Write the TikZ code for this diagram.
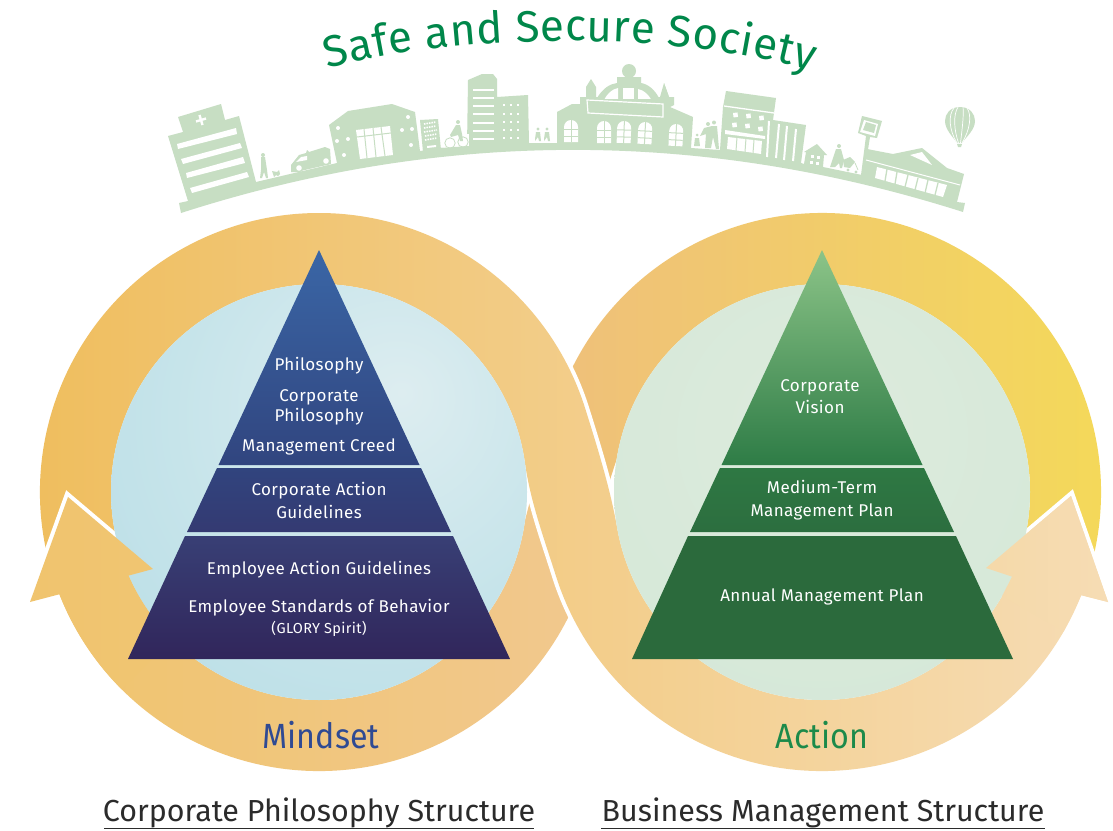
\documentclass[tikz,border=0pt]{standalone}
\usepackage{fontspec}
\setmainfont{Fira Sans}
\newfontfamily\lblf[LetterSpace=2.4]{Fira Sans}
\usetikzlibrary{decorations.text}
\definecolor{sky}{HTML}{C7DEC3}
\definecolor{titlegreen}{HTML}{00874A}
\definecolor{mindblue}{HTML}{2F4A93}
\definecolor{actgreen}{HTML}{1C8A4A}
\definecolor{captxt}{HTML}{2B2B2B}
\definecolor{LB1}{HTML}{DDEDF0}
\definecolor{LB2}{HTML}{C6E4EA}
\definecolor{LB3}{HTML}{B4DBE5}
\definecolor{RB1}{HTML}{DDEBDD}
\definecolor{RB2}{HTML}{D5E8D8}
\definecolor{RB3}{HTML}{D1E6D6}
\definecolor{F0}{HTML}{F0C46E}
\definecolor{F0b}{HTML}{F0C572}
\definecolor{F1}{HTML}{F1C88E}
\definecolor{F2}{HTML}{EFC07A}
\definecolor{F3}{HTML}{F4DA58}
\definecolor{F4}{HTML}{EFBD5C}
\definecolor{F5}{HTML}{F3CE82}
\definecolor{F6}{HTML}{F6DCB4}
\definecolor{F5b}{HTML}{F5D9A9}
\definecolor{LA}{HTML}{3A66A6}
\definecolor{LB}{HTML}{31457F}
\definecolor{LC}{HTML}{31447E}
\definecolor{LD}{HTML}{343A72}
\definecolor{LE}{HTML}{383F75}
\definecolor{LF}{HTML}{31265B}
\definecolor{RA}{HTML}{8CC488}
\definecolor{RM}{HTML}{3F9156}
\definecolor{RC}{HTML}{2E7C46}
\definecolor{RD}{HTML}{2E7843}
\definecolor{RE}{HTML}{2C6E3F}
\definecolor{RF}{HTML}{2B6A3C}
\pgfdeclareradialshading{leftball}{\pgfpoint{10bp}{12bp}}{color(0bp)=(LB1);color(25bp)=(LB2);color(50bp)=(LB3);color(100bp)=(LB3)}
\pgfdeclareradialshading{rightball}{\pgfpoint{0bp}{8bp}}{color(0bp)=(RB1);color(35bp)=(RB2);color(62bp)=(RB3);color(100bp)=(RB3)}
\tikzset{
  lbl/.style={text=white,anchor=base,font=\lblf\fontsize{17}{19}\selectfont,inner sep=0pt},
  biglbl/.style={anchor=base,font=\fontsize{35}{38}\selectfont,inner sep=0pt,xscale=.92,transform shape},
  caplbl/.style={anchor=base,text=captxt,font=\fontsize{30.4}{32}\selectfont,inner sep=0pt},
  sk/.style={fill=sky,draw=none},
  wh/.style={fill=white,draw=none},
  wl/.style={draw=white,line width=1.2pt},
  gl/.style={draw=sky,line width=1pt}
}
\newcommand{\archwin}[3]{\begin{scope}[shift={(#1,#2)},rotate=#3]
  \fill[white] (-7,11)--(-7,-4) arc[start angle=180,end angle=0,radius=7pt]--(7,11)--cycle;
  \draw[gl] (0,-11)--(0,11) (-7,-2)--(7,-2) (-7,5)--(7,5);
\end{scope}}
\begin{document}
\begin{tikzpicture}[x=1pt,y=-1pt]
\useasboundingbox (0,0) rectangle (1113,830);
\fill[white] (0,0) rectangle (1113,830);
\coordinate (L) at (319,492);
\coordinate (R) at (822,492);
\def\bandone{([shift={(200:279pt)}]L) arc[start angle=200,end angle=17,radius=279pt]
  .. controls (597.6,448) and (610,488) .. ([shift={(189.7:208pt)}]R)
  arc[start angle=189.7,end angle=336,radius=208pt]
  -- (986,568) -- (1071,496) -- (1108,602) -- ([shift={(338.3:279pt)}]R)
  arc[start angle=338.3,end angle=198,radius=279pt]
  .. controls (544.6,540) and (530.6,502.6) .. ([shift={(8:208pt)}]L)
  arc[start angle=8,end angle=200,radius=208pt] -- cycle}
% back band
\shade[left color=F0,right color=F1]
  ([shift={(201.5:279pt)}]L) arc[start angle=201.5,end angle=334.3,radius=279pt]
  -- (585,600) -- (545,495) -- (531,497) -- ([shift={(-7.7:208pt)}]L)
  arc[start angle=-7.7,end angle=-156.3,radius=208pt] -- cycle;
\shade[left color=F2,right color=F3]
  ([shift={(154.3:279pt)}]R) arc[start angle=154.3,end angle=-20,radius=279pt]
  -- ([shift={(-20:208pt)}]R) arc[start angle=-20,end angle=171,radius=208pt]
  -- (608,486) -- (590,480) -- (560,372) -- cycle;
% front band
\path[draw=white,line width=8pt,line join=miter] \bandone;
\shade[left color=F4,middle color=F5,right color=F6] \bandone;
% left arrow white edge, then discs, then both arrow heads on top
\path[draw=white,line width=8pt] (30,602) -- (68,497) -- (153,569);
\path[shading=rightball] (R) circle[radius=208pt];
\path[shading=leftball] (L) circle[radius=208pt];
\shade[left color=F0,right color=F0b]
  ([shift={(201.5:279pt)}]L) arc[start angle=201.5,end angle=225,radius=279pt]
  -- ([shift={(225:208pt)}]L) arc[start angle=225,end angle=203.7,radius=208pt]
  -- (153,569) -- (68,497) -- (30,602) -- cycle;
\shade[left color=F5b,right color=F6]
  ([shift={(338.3:279pt)}]R) -- (1108,602) -- (1071,496) -- (986,568)
  -- ([shift={(336:208pt)}]R) -- ([shift={(330:208pt)}]R) -- ([shift={(330:279pt)}]R) -- cycle;
% pyramids left
\shade[top color=LA,bottom color=LB] (319,250) -- (419.5,465) -- (218.5,465) -- cycle;
\shade[top color=LC,bottom color=LD] (217,468) -- (421,468) -- (451,532) -- (187,532) -- cycle;
\shade[top color=LE,bottom color=LF] (185,536) -- (453,536) -- (510,659) -- (128,659) -- cycle;
% pyramids right
\shade[top color=RA,middle color=RM,bottom color=RC] (822,250) -- (922.5,465) -- (721.5,465) -- cycle;
\shade[top color=RD,bottom color=RE] (720,468) -- (924,468) -- (954,532) -- (690,532) -- cycle;
\fill[RF] (688,536) -- (956,536) -- (1013,659) -- (632,659) -- cycle;
% title
\path[decorate,decoration={text along path,text align={fit to path},
  text={|\fontsize{44}{46}\selectfont\color{titlegreen}|Safe and Secure Society}}]
  (328,69) .. controls (400,49) and (485,41) .. (571,41) .. controls (655,41) and (735,50) .. (812,71);
% skyline ground and main silhouettes
\fill[sk] (181,213) -- (179,203) -- (188,201) -- (168,136) -- (183,132) -- (178,117) -- (221,104) -- (225,120) -- (239,116) -- (256,182)
  -- (337,163) -- (329,125) -- (348,111) -- (392,104) -- (415,112) -- (420,151) -- (441,148) -- (467,146)
  -- (468,80) -- (482,74) -- (493,74) -- (497,79) -- (497,97) -- (528,95) -- (529,143) -- (557,143)
  -- (557,112) -- (572,104) -- (580,104) -- (580,97) -- (586,97) -- (586,87) -- (591,79) -- (596,87) -- (596,97)
  -- (664,97) -- (664,87) -- (664,83) -- (669,97) -- (674,97) -- (674,105) -- (670,107) -- (693,117) -- (691,148)
  -- (720,150) -- (723,107) -- (726,91) -- (776,98) -- (773,120) -- (806,125) -- (801,163) -- (804,164) -- (806,152) -- (804,152) -- (817,144) -- (827,155) -- (824,155) -- (823,167)
  -- (862,175) -- (867,149) -- (893,154) -- (922,148) -- (947,168) -- (964,174) -- (957,202) -- (965,203) -- (963,212)
  .. controls (702,129) and (442,129) .. (181,213) -- cycle;
\fill[sk] (420,120) -- (438,119) -- (441,150) -- (423,152) -- cycle;
% station dome
\fill[sk] (597,98) .. controls (603,88) and (610,84) .. (617,83) -- (617,77) -- (641,77) -- (641,83) .. controls (648,84) and (655,90) .. (659,98) -- cycle;
\fill[sk] (629,71) circle[radius=7pt];
\fill[sk] (660,97) -- (664,83) -- (669,97) -- cycle;
\fill[wh] (604,100) -- (618,100) -- (618,88) .. controls (612,89) and (607,94) .. (604,100) -- cycle;
\fill[wh] (623,88) -- (634,88) -- (634,101) -- (623,101) -- cycle;
\fill[wh] (638,101) -- (652,101) .. controls (649,95) and (644,90) .. (638,89) -- cycle;
\fill[sk] (586,99) -- (670,99) -- (670,118) -- (586,118) -- cycle;
\draw[wl] (587,100) -- (663,104) -- (663,117) -- (588,113) -- cycle;
\archwin{571}{131}{0}\archwin{604}{132}{0}\archwin{624}{132}{-2}\archwin{645}{133}{-3}\archwin{676}{135}{-3}
% hospital
\fill[wh] (177,144) -- (236,128) -- (237,134) -- (178,149) -- cycle;
\fill[wh] (181,159) -- (240,143) -- (242,148) -- (183,164) -- cycle;
\fill[wh] (186,173) -- (243,157) -- (245,163) -- (187,178) -- cycle;
\fill[wh] (190,188) -- (247,172) -- (249,177) -- (192,193) -- cycle;
\draw[white,line width=2.4pt] (196,121.5) -- (206,118.5) (199.5,115) -- (202.5,125);
% walker and dog
\fill[sk] (263,155) circle[radius=2pt];
\fill[sk] (261,157) -- (265,157) -- (267,170) -- (268,178) -- (266,178) -- (264,172) -- (262,178) -- (260,178) -- (261,170) -- cycle;
\fill[sk] (272,171) -- (277,172) -- (279,170) -- (280,174) -- (278,176) -- (276,175) -- (274,177) -- cycle;
% ambulance
\fill[sk] (291,172) -- (291,165) -- (299,155) -- (306,153) -- (307,150) -- (309,152) -- (325,147) -- (330,149) -- (331,164) -- (296,172) -- cycle;
\fill[wh] (296,162) -- (301,157) -- (307,156) -- (307,160) -- cycle;
\fill[sk] (299,168) circle[radius=4.4pt] (326,161) circle[radius=4.4pt];
\fill[wh] (299,168) circle[radius=2.8pt] (326,161) circle[radius=2.8pt];
% middle building
\fill[wh] (356,130) -- (390,126) -- (393,155) -- (360,159) -- cycle;
\draw[gl] (364,129) -- (367,158) (373,128) -- (376,157) (381,127) -- (385,156);
\draw[gl] (357,137) -- (391,133);
\foreach \a/\b in {338/128,337/141,348/139,344/155,408/117,402/130,412/129,411/145}{\fill[wh] (\a,\b) circle[radius=2pt];}
% vending
\draw[white,line width=1.6pt,dash pattern=on 1.5pt off 1pt] (424,124) -- (436,122) (424,128) -- (436,126) (424,132) -- (437,130) (425,136) -- (437,134) (425,140) -- (437,138);
\fill[wh] (427,146) -- (436,145) -- (436,147) -- (427,148) -- cycle;
% cyclist
\fill[wh] (444,134) rectangle (469,150);
\fill[sk] (441,148) -- (469,146) -- (469,152) -- (441,154) -- cycle;
\draw[sky,line width=.8pt] (450,143) circle[radius=5.2pt] (463,142) circle[radius=5.2pt];
\fill[sk] (458,122) circle[radius=2pt];
\fill[sk] (456,125) -- (460,125) -- (462,134) -- (463,141) -- (460,141) -- (458,135) -- (451,137) -- (450,135) -- cycle;
% tower
\foreach \b in {89,97,105,113,122,130,138}{\fill[wh] (473,\b) rectangle (494,{\b+1.6});}
\foreach \a in {503,510,517}{\foreach \b in {104,113,121,129,137}{\fill[wh] (\a,\b) rectangle ({\a+2},{\b+2});}}
% two runners
\foreach \a in {538,547}{\fill[sk] (\a,129) circle[radius=1.7pt];
  \fill[sk] ({\a-2},132) -- ({\a+2},132) -- ({\a+3},141) -- ({\a+1},141) -- (\a,137) -- ({\a-3},141) -- ({\a-3},139) -- cycle;}
% family
\fill[sk] (708,124) circle[radius=2pt] (714,122.5) circle[radius=2pt] (697,135) circle[radius=1.5pt];
\fill[sk] (704,128) -- (712,126) -- (717,126) -- (719,149) -- (716,149) -- (713,137) -- (711,148) -- (705,148) -- (706,134) -- (700,136) -- cycle;
\fill[sk] (695,138) -- (699,138) -- (700,146) -- (694,146) -- cycle;
% building right of station
\draw[white,line width=1.3pt] (724,106) -- (774,113);
\foreach \a/\b in {733/113,746/114,759/116,732/123,745/124,758/127}{\fill[wh,rotate around={7:(\a,\b)}] (\a,\b) rectangle ({\a+4.5},{\b+4.5});}
\fill[wh] (725,130) -- (765,136) -- (765,139) -- (725,134) -- cycle;
\fill[wh] (728,137) -- (762,141) -- (761,154) -- (727,149) -- cycle;
\draw[gl] (737,137) -- (736,151) (746,138) -- (745,152) (754,140) -- (753,153);
\draw[white,line width=2pt] (769,121) -- (767,157) (779,124) -- (776,158) (787,126) -- (784,160) (796,129) -- (793,161);
% house
\foreach \a/\b in {811/155,817/156,810/161,816/162}{\fill[wh] (\a,\b) rectangle ({\a+2.6},{\b+2.6});}
% stroller
\fill[sk] (839,146) circle[radius=2pt];
\fill[sk] (836,149) -- (841,149) -- (844,160) -- (842,168) -- (840,168) -- (839,163) -- (835,167) -- (830,167) -- cycle;
\fill[sk] (843,160) -- (850,157) -- (855,162) -- (850,168) -- (844,167) -- cycle;
\draw[sky,line width=.8pt] (855,163) -- (858,170);
\fill[sk] (848,170) circle[radius=1.7pt] (856,172) circle[radius=1.7pt];
% sign
\fill[sk] (858,133) -- (862,116) -- (882,121) -- (877,138) -- (870,137) -- (864,175) -- (861,175) -- (866,136) -- cycle;
\fill[wh] (864,120) -- (878,124) -- (875,136) -- (860,132) -- cycle;
\fill[sk] (866,122) -- (876,125) -- (874,133) -- (863,130) -- cycle;
% store
\draw[white,line width=1pt] (866,160) -- (960,185);
\fill[wh] (877,167) -- (947,185) -- (943,197) -- (875,178) -- cycle;
\draw[sky,line width=1.3pt] (887,169) -- (885,181) (897,172) -- (895,184) (908,175) -- (905,187) (918,178) -- (915,190) (928,180) -- (925,193) (938,183) -- (935,195);
\fill[wh] (910,155) -- (922,152) -- (932,165) -- cycle;
% balloon
\fill[sk] (960,107) .. controls (950,107) and (945,114) .. (945,121) .. controls (945,130) and (954,138) .. (957,143) -- (962,143) .. controls (966,137) and (975,130) .. (975,121) .. controls (975,114) and (970,107) .. (960,107) -- cycle;
\draw[white,line width=.7pt] (957,143) .. controls (949,130) and (948,115) .. (954,108)
  (958.5,143) .. controls (954,130) and (953,115) .. (958,107)
  (960.5,143) .. controls (962,130) and (964,115) .. (963,107)
  (962,143) .. controls (970,130) and (972,115) .. (967,108);
\fill[sk] (957,144) -- (962,144) -- (961,147) -- (958,147) -- cycle;
% texts
\node[lbl] (t1) at (319,370.5) {Philosophy};
\node[lbl] (t2) at (319,401.5) {Corporate};
\node[lbl] (t3) at (319,421.5) {Philosophy};
\node[lbl] (t4) at (319,451.5) {Management Creed};
\node[lbl] (t5) at (319,495.5) {Corporate Action};
\node[lbl] (t6) at (319,518.5) {Guidelines};
\node[lbl] (t7) at (319,574.5) {Employee Action Guidelines};
\node[lbl] (t8) at (319,612.5) {Employee Standards of Behavior};
\node[lbl,font=\lblf\fontsize{14.5}{16}\selectfont] (t9) at (319,633.5) {(GLORY Spirit)};
\node[lbl] (t10) at (820,391.5) {Corporate};
\node[lbl] (t11) at (820,413.5) {Vision};
\node[lbl] (t12) at (822,493.5) {Medium-Term};
\node[lbl] (t13) at (822,516.5) {Management Plan};
\node[lbl] (t14) at (822,601.5) {Annual Management Plan};
\node[biglbl,text=mindblue] (m) at (321,748) {Mindset};
\node[biglbl,text=actgreen] (a) at (822,748) {Action};
\node[caplbl] (c1) at (319,821) {Corporate Philosophy Structure};
\node[caplbl] (c2) at (823,821) {Business Management Structure};
\draw[captxt,line width=1pt] (104,828.5) -- (534,828.5) (601,828.5) -- (1045,828.5);
\end{tikzpicture}
\end{document}
